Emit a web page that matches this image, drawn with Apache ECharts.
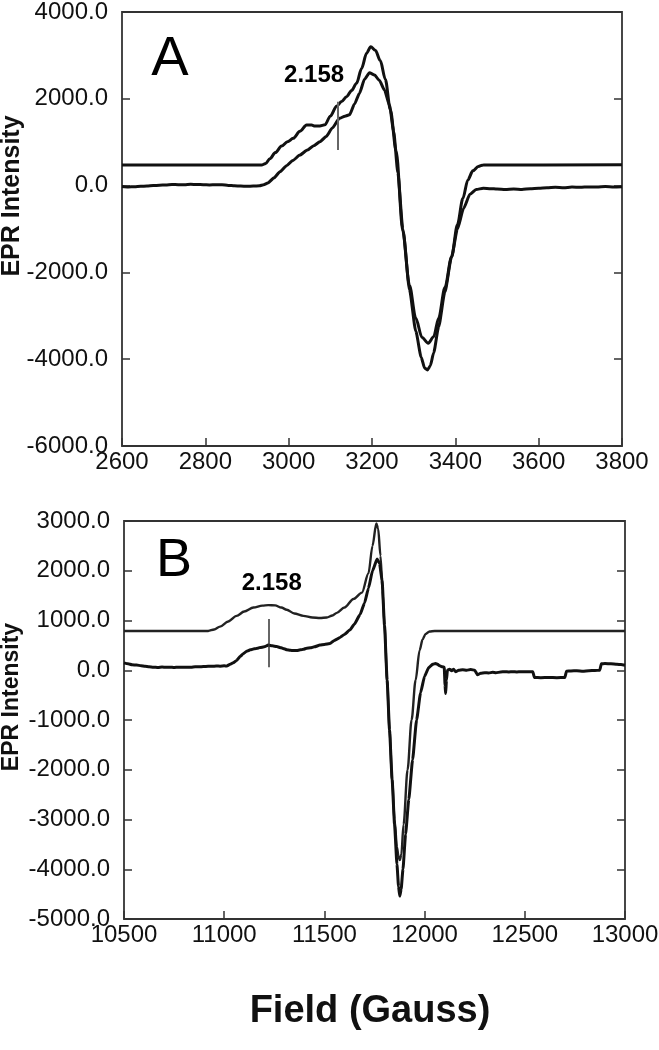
<!DOCTYPE html>
<html>
<head>
<meta charset="utf-8">
<script src="https://cdn.jsdelivr.net/npm/echarts/dist/echarts.min.js"></script>
<style>
  html, body { margin: 0; padding: 0; background: #fff; }
  #chart { width: 659px; height: 1050px; }
</style>
</head>
<body>
<div id="chart"></div>
<script>
// panel A : field (G) / intensity, experimental trace
var fieldAExp = [2600, 2615, 2630, 2645, 2660, 2675, 2690, 2705, 2720, 2735, 2750, 2765, 2780, 2795, 2810, 2825, 2840, 2855, 2870, 2885, 2900, 2915, 2930, 2940, 2950, 2965, 2979, 2995, 3010, 3027, 3045, 3060, 3075, 3090, 3105, 3122, 3135, 3146, 3158, 3170, 3182, 3194, 3206, 3218, 3230, 3242, 3252, 3262, 3274, 3290, 3305, 3318, 3326, 3333, 3340, 3348, 3360, 3375, 3391, 3405, 3420, 3435, 3450, 3467, 3485, 3500, 3520, 3540, 3560, 3580, 3600, 3620, 3640, 3660, 3680, 3700, 3720, 3740, 3760, 3780, 3800];
var intAExp = [-20, -30, -25, -15, -10, 0, 10, 15, 25, 20, 20, 30, 25, 20, 15, 20, 20, 5, -5, -10, -15, -10, -5, 20, 60, 180, 320, 460, 580, 705, 820, 920, 1010, 1130, 1330, 1550, 1600, 1630, 1880, 2130, 2450, 2600, 2550, 2420, 2200, 1850, 1250, 300, -1000, -2400, -3350, -3950, -4200, -4250, -4150, -3850, -3250, -2450, -1640, -1000, -520, -200, -90, -60, -70, -80, -90, -80, -90, -70, -60, -50, -40, -50, -35, -40, -30, -35, -20, -30, -25];

// panel A : simulation
var fieldASim = [2600, 2935, 2945, 2955, 2968, 2983, 2997, 3011, 3027, 3043, 3055, 3063, 3075, 3087, 3100, 3115, 3127, 3139, 3151, 3163, 3175, 3187, 3197, 3208, 3220, 3232, 3244, 3258, 3274, 3290, 3305, 3320, 3335, 3348, 3360, 3375, 3391, 3405, 3418, 3430, 3442, 3455, 3467, 3800];
var intASim = [475, 475, 510, 620, 760, 910, 1010, 1090, 1250, 1395, 1395, 1373, 1375, 1400, 1600, 1830, 1940, 2050, 2190, 2360, 2700, 3050, 3200, 3120, 2880, 2450, 1750, 800, -1050, -2300, -3050, -3500, -3630, -3480, -3050, -2350, -1640, -900, -300, 130, 340, 440, 475, 480];

// panel B : experimental trace
var fieldBExp = [10500, 10520, 10540, 10563, 10585, 10605, 10625, 10646, 10670, 10690, 10710, 10730, 10750, 10770, 10790, 10813, 10835, 10855, 10875, 10896, 10920, 10940, 10960, 10980, 11000, 11013, 11030, 11045, 11062, 11080, 11095, 11112, 11130, 11150, 11165, 11179, 11200, 11220, 11240, 11262, 11285, 11300, 11312, 11330, 11345, 11362, 11380, 11395, 11412, 11430, 11450, 11478, 11500, 11528, 11550, 11578, 11600, 11628, 11650, 11678, 11700, 11720, 11740, 11763, 11775, 11788, 11800, 11813, 11825, 11838, 11850, 11862, 11870, 11876, 11883, 11892, 11905, 11921, 11940, 11960, 11980, 12000, 12020, 12040, 12055, 12065, 12075, 12089, 12098, 12102, 12105, 12109, 12114, 12125, 12135, 12145, 12155, 12170, 12190, 12210, 12230, 12250, 12264, 12280, 12300, 12320, 12340, 12356, 12380, 12400, 12420, 12440, 12460, 12480, 12500, 12520, 12540, 12548, 12580, 12620, 12660, 12700, 12708, 12730, 12760, 12790, 12820, 12850, 12874, 12882, 12900, 12930, 12960, 12980, 13000];
var intBExp = [148, 130, 110, 105, 90, 80, 70, 62, 55, 65, 60, 62, 55, 62, 58, 62, 60, 70, 68, 74, 80, 78, 85, 82, 88, 86, 120, 150, 198, 280, 330, 383, 410, 430, 440, 457, 470, 506, 490, 475, 450, 430, 414, 400, 395, 395, 410, 420, 444, 450, 470, 506, 520, 537, 600, 660, 720, 815, 930, 1120, 1350, 1650, 2000, 2235, 2150, 1800, 900, -200, -1200, -2200, -3100, -3900, -4350, -4540, -4400, -4000, -3300, -2600, -1800, -1000, -450, -120, 50, 120, 137, 120, 90, 70, 60, -300, -466, -200, 4, 20, -10, 20, -30, 0, 10, 0, 15, 0, -90, -60, -50, -55, -40, -50, -35, -30, -35, -30, -35, -30, -30, -30, -30, -144, -150, -145, -150, -144, -20, -15, -10, -20, -10, -5, 0, 130, 135, 130, 120, 115, 100];

// panel B : simulation
var fieldBSim = [10500, 10920, 10950, 10979, 11020, 11062, 11100, 11146, 11190, 11220, 11254, 11285, 11312, 11350, 11395, 11440, 11478, 11512, 11540, 11562, 11600, 11645, 11687, 11720, 11740, 11759, 11768, 11780, 11790, 11800, 11813, 11825, 11838, 11850, 11862, 11870, 11876, 11884, 11895, 11915, 11935, 11955, 11975, 11990, 12005, 12025, 12050, 13000];
var intBSim = [790, 790, 820, 877, 980, 1093, 1180, 1260, 1300, 1310, 1305, 1260, 1216, 1140, 1093, 1060, 1049, 1060, 1100, 1154, 1260, 1432, 1560, 1950, 2500, 2950, 2850, 2300, 1600, 900, -200, -1200, -2200, -3000, -3550, -3750, -3816, -3700, -3100, -2000, -1000, -200, 400, 620, 730, 780, 790, 790];

var xTicksA = [2600, 3800, 200];
var yTicksA = [-6000, 4000, 2000];
var xTicksB = [10500, 13000, 500];
var yTicksB = [-5000, 3000, 1000];

function pairs(xs, ys) {
  return xs.map(function (x, i) { return [x, ys[i]]; });
}

var FONT = '"Liberation Sans", Arial, Helvetica, sans-serif';
var INK = '#111';
var FRAME = '#333';

function xAxisOf(grid, t) {
  return {
    gridIndex: grid, type: 'value', min: t[0], max: t[1], interval: t[2],
    position: 'bottom',
    axisLine: { show: false, onZero: false },
    axisTick: { inside: true, length: 8, lineStyle: { color: FRAME, width: 1.5 } },
    axisLabel: {
      fontSize: 24, color: INK, fontFamily: FONT, margin: 4,
      formatter: function (v) { return String(v); }
    },
    splitLine: { show: false }
  };
}
function yAxisOf(grid, t, right) {
  return {
    gridIndex: grid, type: 'value', min: t[0], max: t[1], interval: t[2],
    position: right ? 'right' : 'left',
    axisLine: { show: false, onZero: false },
    axisTick: { inside: true, length: 8, lineStyle: { color: FRAME, width: 1.5 } },
    axisLabel: {
      show: !right, fontSize: 24, color: INK, fontFamily: FONT, margin: 14,
      formatter: function (v) { return v.toFixed(1); }
    },
    splitLine: { show: false }
  };
}

function tag(text, size, bold) {
  return {
    show: true, position: 'inside', formatter: text, opacity: 1,
    fontSize: size, fontWeight: bold ? 'bold' : 'normal', color: '#000', fontFamily: FONT
  };
}

var chart = echarts.init(document.getElementById('chart'));
chart.setOption({
  animation: false,
  backgroundColor: '#fff',
  grid: [
    { left: 122, top: 12, width: 500, height: 434, show: true, borderColor: FRAME, borderWidth: 1.8, outerBoundsMode: 'none' },
    { left: 124, top: 521, width: 501, height: 398, show: true, borderColor: FRAME, borderWidth: 1.8, outerBoundsMode: 'none' }
  ],
  xAxis: [xAxisOf(0, xTicksA), xAxisOf(1, xTicksB)],
  yAxis: [yAxisOf(0, yTicksA, false), yAxisOf(0, yTicksA, true), yAxisOf(1, yTicksB, false), yAxisOf(1, yTicksB, true)],
  graphic: [
    { type: 'text', x: 12, y: 196, rotation: Math.PI / 2,
      style: { text: 'EPR Intensity', fontSize: 25, fontWeight: 'bold', fontFamily: FONT, fill: INK, align: 'center', verticalAlign: 'middle' } },
    { type: 'text', x: 12, y: 697, rotation: Math.PI / 2,
      style: { text: 'EPR Intensity', fontSize: 23, fontWeight: 'bold', fontFamily: FONT, fill: INK, align: 'center', verticalAlign: 'middle' } },
    { type: 'text', x: 370, y: 1012,
      style: { text: 'Field (Gauss)', fontSize: 38, fontWeight: 'bold', fontFamily: FONT, fill: INK, align: 'center', verticalAlign: 'middle' } }
  ],
  series: [
    {
      type: 'line', xAxisIndex: 0, yAxisIndex: 0, data: pairs(fieldASim, intASim),
      showSymbol: false, smooth: 0.3, smoothMonotone: 'x',
      lineStyle: { color: INK, width: 3 }
    },
    {
      type: 'line', xAxisIndex: 0, yAxisIndex: 0, data: pairs(fieldAExp, intAExp),
      showSymbol: false, smooth: 0.2, smoothMonotone: 'x',
      lineStyle: { color: INK, width: 3 },
      markLine: {
        silent: true, symbol: ['none', 'none'], label: { show: false },
        lineStyle: { type: 'solid', color: '#666', width: 2 },
        data: [[{ coord: [3117, 820] }, { coord: [3117, 1930] }]]
      }
    },
    {
      type: 'line', xAxisIndex: 1, yAxisIndex: 2, data: pairs(fieldBSim, intBSim),
      showSymbol: false, smooth: 0.3, smoothMonotone: 'x',
      lineStyle: { color: '#222', width: 2.4 }
    },
    {
      type: 'line', xAxisIndex: 1, yAxisIndex: 2, data: pairs(fieldBExp, intBExp),
      showSymbol: false, smooth: 0.15, smoothMonotone: 'x',
      lineStyle: { color: INK, width: 3 },
      markLine: {
        silent: true, symbol: ['none', 'none'], label: { show: false },
        lineStyle: { type: 'solid', color: '#333', width: 1.5 },
        data: [[{ coord: [11220, 60] }, { coord: [11220, 1030] }]]
      }
    },
    {
      type: 'scatter', xAxisIndex: 0, yAxisIndex: 0, symbolSize: 1, silent: true,
      itemStyle: { color: 'rgba(0,0,0,0)', opacity: 1 },
      data: [
        { value: [2715, 2894], label: tag('A', 56, false) },
        { value: [3061, 2530], label: tag('2.158', 24, true) }
      ]
    },
    {
      type: 'scatter', xAxisIndex: 1, yAxisIndex: 2, symbolSize: 1, silent: true,
      itemStyle: { color: 'rgba(0,0,0,0)', opacity: 1 },
      data: [
        { value: [10749, 2187], label: tag('B', 54, false) },
        { value: [11237, 1756], label: tag('2.158', 24, true) }
      ]
    }
  ]
});
</script>
</body>
</html>
